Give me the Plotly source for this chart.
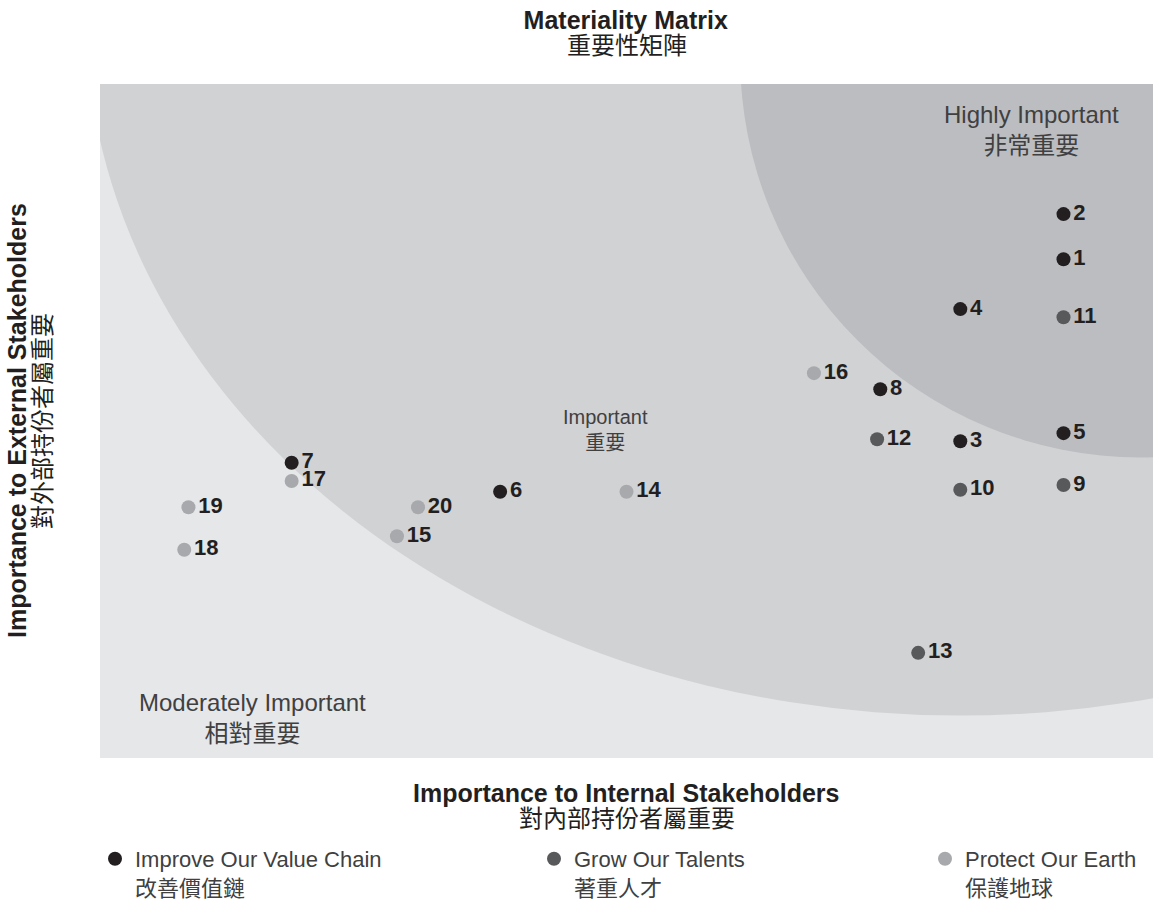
import plotly.graph_objects as go

# ---------------- data ----------------
issue_ids = [1, 2, 3, 4, 5, 6, 7, 8, 9, 10, 11, 12, 13, 14, 15, 16, 17, 18, 19, 20]
internal_importance = [9.15, 9.15, 8.17, 8.17, 9.15, 3.80, 1.82, 7.41, 9.15, 8.17,
                       9.15, 7.38, 7.77, 5.00, 2.82, 6.78, 1.82, 0.80, 0.84, 3.02]
external_importance = [7.40, 8.07, 4.70, 6.66, 4.82, 3.95, 4.38, 5.47, 4.05, 3.98,
                       6.54, 4.73, 1.56, 3.95, 3.29, 5.71, 4.11, 3.09, 3.72, 3.72]
issue_pillar = [0, 0, 0, 0, 0, 0, 0, 0, 1, 1, 1, 1, 1, 2, 2, 2, 2, 2, 2, 2]
pillar_names_en = ["Improve Our Value Chain", "Grow Our Talents", "Protect Our Earth"]
pillar_names_zh = ["改善價值鏈", "著重人才", "保護地球"]

zone_names_en = ["Highly Important", "Important", "Moderately Important"]
zone_names_zh = ["非常重要", "重要", "相對重要"]

title_en = "Materiality Matrix"
title_zh = "重要性矩陣"
x_title_en = "Importance to Internal Stakeholders"
x_title_zh = "對內部持份者屬重要"
y_title_en = "Importance to External Stakeholders"
y_title_zh = "對外部持份者屬重要"

# ---------------- style ----------------
FONT = "Liberation Sans, Arial, Noto Sans CJK TC, sans-serif"
DARK = "#231f20"
TEXT = "#404041"
pillar_colors = ["#231f20", "#58595b", "#a7a9ac"]
legend_x_px = [95, 534, 925]
zone_font_sizes = [24, 20, 24]

fig = go.Figure()

for p in range(3):
    idx = [i for i, g in enumerate(issue_pillar) if g == p]
    fig.add_trace(go.Scatter(
        x=[internal_importance[i] for i in idx],
        y=[external_importance[i] for i in idx],
        text=[str(issue_ids[i]) for i in idx],
        mode="markers+text",
        textposition="middle right",
        textfont=dict(family=FONT, size=22, color=DARK, weight="bold"),
        marker=dict(size=14, color=pillar_colors[p], line=dict(width=0)),
        name=pillar_names_en[p] + "<br>" + pillar_names_zh[p],
        legend="legend" if p == 0 else "legend%d" % (p + 1),
        hoverinfo="skip",
    ))

# background zones (plot background = moderately important)
fig.add_shape(type="circle", xref="x", yref="y", x0=-0.133, x1=16.47, y0=0.63, y1=21.41,
              fillcolor="#d1d2d4", line=dict(width=0), layer="below")
fig.add_shape(type="circle", xref="x", yref="y", x0=6.08, x1=13.68, y0=4.46, y1=16.32,
              fillcolor="#bcbdc0", line=dict(width=0), layer="below")

zone_pos = [(8.85, 9.32), (4.80, 4.87), (1.45, 0.59)]
for k in range(3):
    fig.add_annotation(x=zone_pos[k][0], y=zone_pos[k][1], xref="x", yref="y",
                       text=zone_names_en[k] + "<br>" + zone_names_zh[k],
                       showarrow=False, align="center",
                       font=dict(family=FONT, size=zone_font_sizes[k], color=TEXT))

# title second line
fig.add_annotation(x=0.5, y=1, xref="paper", yref="paper", xanchor="center",
                   yanchor="middle", yshift=39, showarrow=False, text=title_zh,
                   font=dict(family=FONT, size=24, color=DARK))

# axis titles (one annotation per line)
fig.add_annotation(x=0.5, y=0, xref="paper", yref="paper", xanchor="center",
                   yanchor="middle", yshift=-35, showarrow=False,
                   text="<b>" + x_title_en + "</b>",
                   font=dict(family=FONT, size=25, color=DARK))
fig.add_annotation(x=0.5, y=0, xref="paper", yref="paper", xanchor="center",
                   yanchor="middle", yshift=-60, showarrow=False, text=x_title_zh,
                   font=dict(family=FONT, size=24, color=DARK))
fig.add_annotation(x=0, y=0.5, xref="paper", yref="paper", xanchor="center",
                   yanchor="middle", xshift=-83, showarrow=False, textangle=-90,
                   text="<b>" + y_title_en + "</b>",
                   font=dict(family=FONT, size=25, color=DARK))
fig.add_annotation(x=0, y=0.5, xref="paper", yref="paper", xanchor="center",
                   yanchor="middle", xshift=-58, showarrow=False, textangle=-90,
                   text=y_title_zh,
                   font=dict(family=FONT, size=24, color=DARK))

legend_common = dict(orientation="h", xref="container", yref="container",
                     yanchor="top", y=1 - 838 / 922, valign="top",
                     bgcolor="rgba(0,0,0,0)",
                     font=dict(family=FONT, size=22, color=TEXT))

fig.update_layout(
    width=1156, height=922,
    margin=dict(l=100, r=3, t=84, b=164),
    paper_bgcolor="white",
    plot_bgcolor="#e6e7e9",
    title=dict(text="<b>" + title_en + "</b>",
               x=0.5413, xanchor="center", y=1 - 20 / 922, yanchor="middle",
               yref="container",
               font=dict(family=FONT, size=25, color=DARK)),
    xaxis=dict(range=[0, 10], showgrid=False, zeroline=False, showticklabels=False,
               ticks="", showline=False, fixedrange=True),
    yaxis=dict(range=[0, 10], showgrid=False, zeroline=False, showticklabels=False,
               ticks="", showline=False, fixedrange=True),
    legend=dict(x=legend_x_px[0] / 1156, **legend_common),
    legend2=dict(x=legend_x_px[1] / 1156, **legend_common),
    legend3=dict(x=legend_x_px[2] / 1156, **legend_common),
    showlegend=True,
)

fig.write_html("out.html", config={"displayModeBar": False},
               post_script="document.body.style.margin='0px';")
